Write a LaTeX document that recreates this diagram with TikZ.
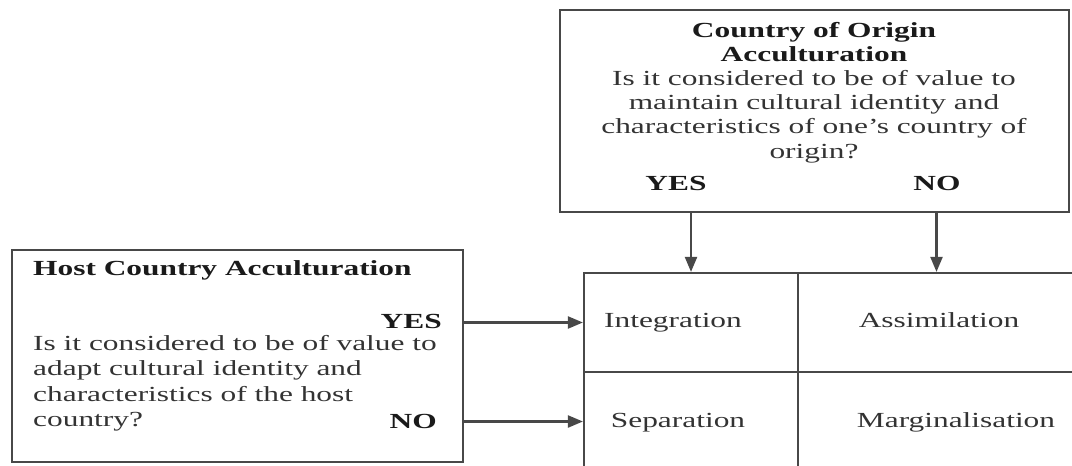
\documentclass[tikz,border=0pt]{standalone}
\usepackage{fontspec}
\setmainfont{Liberation Serif}
\usepackage{graphicx}
\usetikzlibrary{arrows.meta}
\newcommand\wide[1]{\scalebox{1.46}[1]{#1}}
\definecolor{ln}{HTML}{484848}
\definecolor{tx}{HTML}{333333}
\definecolor{bd}{HTML}{1A1A1A}
\begin{document}
\begin{tikzpicture}[x=1pt,y=-1pt,
  box/.style={draw=ln,line width=2.2pt,rectangle,inner sep=0pt},
  cell/.style={draw=ln,line width=2.2pt,rectangle,inner sep=0pt},
  arr/.style={draw=ln,line width=2.2pt,-{Triangle[length=15pt,width=12pt]}},
  txt/.style={inner sep=0pt,text=tx,font=\fontsize{21.5}{24.5}\selectfont},
  bold/.style={inner sep=0pt,text=bd,font=\fontsize{21.5}{24.5}\selectfont\bfseries}]
\useasboundingbox (0,0) rectangle (1072,466);
\clip (0,0) rectangle (1072,466);
% boxes
\node[box,minimum width=509pt,minimum height=202pt] (origin) at (814.5,111) {};
\node[box,minimum width=451pt,minimum height=212pt] (host) at (237.5,356) {};
% grid cells
\node[cell,minimum width=214pt,minimum height=99pt] (integ) at (691,322.5) {};
\node[cell,minimum width=277pt,minimum height=99pt] (assim) at (936.5,322.5) {};
\node[cell,minimum width=214pt,minimum height=99pt] (sep) at (691,421.5) {};
\node[cell,minimum width=277pt,minimum height=99pt] (marg) at (936.5,421.5) {};
% top box text
\node[txt,anchor=base,font=\fontsize{21.5}{24.2}\selectfont] (otext) at (814,37)
  {\wide{\begin{tabular}[t]{@{}c@{}}
  \color{bd}\bfseries Country of Origin\\
  \color{bd}\bfseries Acculturation\\
  Is it considered to be of value to\\
  maintain cultural identity and\\
  characteristics of one’s country of\\
  origin?
  \end{tabular}}};
\node[bold,anchor=base] (oyes) at (676,190) {\wide{YES}};
\node[bold,anchor=base] (ono) at (937,190) {\wide{NO}};
% left box text
\node[bold,anchor=base west] (htitle) at (33,275) {\wide{Host Country Acculturation}};
\node[bold,anchor=base east] (hyes) at (442,328) {\wide{YES}};
\node[txt,anchor=base west,font=\fontsize{21.5}{25.6}\selectfont] (htext) at (33,350)
  {\wide{\begin{tabular}[t]{@{}l@{}}
  Is it considered to be of value to\\
  adapt cultural identity and\\
  characteristics of the host\\
  country?
  \end{tabular}}};
\node[bold,anchor=base east] (hno) at (437,428) {\wide{NO}};
% cell labels
\node[txt,anchor=base] (lint) at (673,327) {\wide{Integration}};
\node[txt,anchor=base] (lass) at (939,327) {\wide{Assimilation}};
\node[txt,anchor=base] (lsep) at (678,427) {\wide{Separation}};
\node[txt,anchor=base] (lmar) at (956,427) {\wide{Marginalisation}};
% connectors
\draw[arr] (integ.north |- origin.south) -- (integ.north);
\draw[arr] (assim.north |- origin.south) -- (assim.north);
\draw[arr] (host.east |- integ.west) -- (integ.west);
\draw[arr] (host.east |- sep.west) -- (sep.west);
\end{tikzpicture}
\end{document}
